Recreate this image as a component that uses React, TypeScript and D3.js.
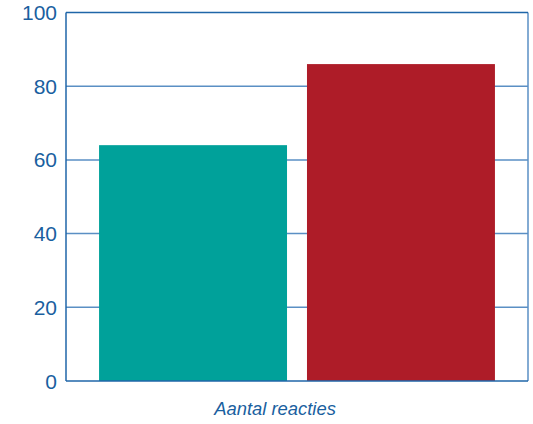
import React from "react";
import * as d3 from "d3";

const categories = ["A", "B"];
const values = [64, 86];
const colors = ["#00A19A", "#AE1C28"];
const yTicks = [0, 20, 40, 60, 80, 100];
const xLabel = "Aantal reacties";

export default function App() {
  const W = 533, H = 424;
  const left = 66, right = 528, top = 12.5, bottom = 381;
  const x = d3.scaleBand<string>().domain(categories).range([left, right]).paddingInner(0.096).paddingOuter(0.159);
  const y = d3.scaleLinear().domain([0, 100]).range([bottom, top]);
  const axisColor = "#1F66A8";
  const gridColor = "#5A8FC4";
  const font = "'Liberation Sans', Arial, Helvetica, sans-serif";
  return (
    <svg width={W} height={H} style={{ position: "absolute", left: 0, top: 0 }}>
      {yTicks.filter(t => t > 0 && t < 100).map(t => (
        <line key={"g" + t} x1={left} x2={right} y1={y(t)} y2={y(t)} stroke={gridColor} strokeWidth={1.5} />
      ))}
      <line x1={right} x2={right} y1={top} y2={bottom} stroke={gridColor} strokeWidth={1.5} />
      <line x1={left} x2={right} y1={top} y2={top} stroke={axisColor} strokeWidth={1.5} />
      {categories.map((c, i) => (
        <rect key={c} x={x(c)} y={y(values[i])} width={x.bandwidth()} height={y(0) - y(values[i])} fill={colors[i]} />
      ))}
      <line x1={left} x2={left} y1={top} y2={bottom} stroke={axisColor} strokeWidth={1.5} />
      <line x1={left} x2={right} y1={bottom} y2={bottom} stroke={axisColor} strokeWidth={1.5} />
      {yTicks.map(t => (
        <text key={"t" + t} x={57} y={y(t)} dy="0.36em" textAnchor="end" fontFamily={font} fontSize={21} fill="#1A5FA0">{t}</text>
      ))}
      <text x={275} y={415} textAnchor="middle" fontFamily={font} fontSize={18.4} fontStyle="italic" fill="#1A5FA0">{xLabel}</text>
    </svg>
  );
}
